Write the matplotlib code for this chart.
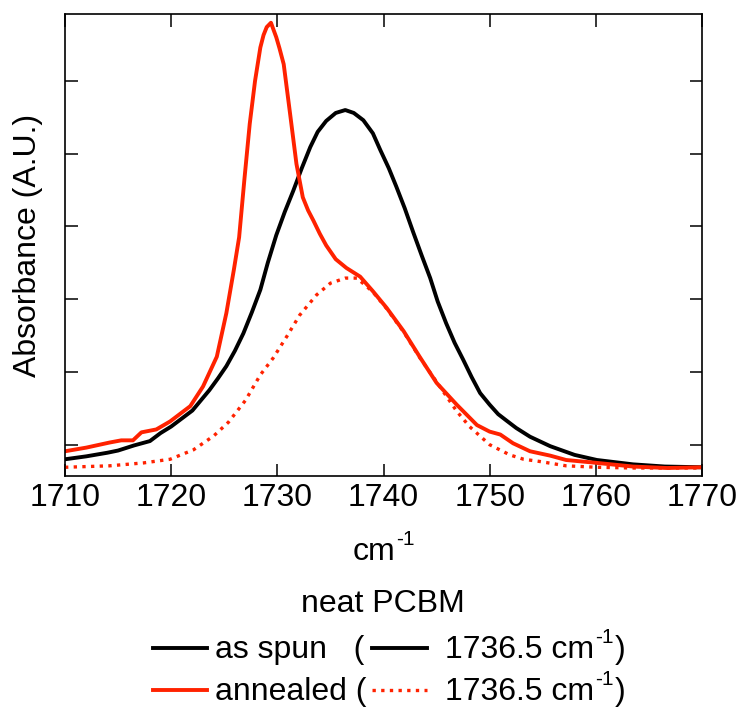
import matplotlib
matplotlib.use("Agg")
import matplotlib.pyplot as plt
from matplotlib.lines import Line2D

plt.rcParams['font.family'] = ['Liberation Sans', 'DejaVu Sans']

# ---- data ----
as_spun_x = [1710, 1712, 1714, 1715, 1716.5, 1718, 1719, 1720, 1722, 1723.6, 1724.4, 1725.2,
             1726.0, 1726.8, 1727.6, 1728.4, 1729.1, 1729.9, 1730.7, 1731.5, 1732.3, 1733.1,
             1733.8, 1734.6, 1735.5, 1736.4, 1737.2, 1738.1, 1739.0, 1739.7, 1740.5, 1741.2,
             1742.0, 1742.8, 1743.6, 1744.4, 1745.1, 1745.9, 1746.7, 1747.5, 1748.3, 1749.1,
             1750.0, 1750.8, 1751.6, 1752.5, 1753.8, 1755.7, 1758, 1760.1, 1763.5, 1766.5, 1770]
as_spun_y = [-0.20, -0.16, -0.11, -0.08, -0.01, 0.05, 0.16, 0.25, 0.47, 0.75, 0.91, 1.08,
             1.29, 1.53, 1.82, 2.13, 2.50, 2.88, 3.20, 3.49, 3.80, 4.09,
             4.30, 4.45, 4.56, 4.60, 4.56, 4.46, 4.28, 4.05, 3.80, 3.55,
             3.25, 2.92, 2.60, 2.29, 1.97, 1.67, 1.40, 1.17, 0.93, 0.71,
             0.55, 0.42, 0.33, 0.23, 0.11, -0.02, -0.14, -0.21, -0.27, -0.30, -0.31]

annealed_x = [1710, 1712, 1714.2, 1715.3, 1716.4, 1717.2, 1718.6, 1719.9, 1721.8, 1723.0,
              1724.3, 1725.2, 1725.9, 1726.4, 1726.9, 1727.4, 1727.9, 1728.4, 1728.7, 1729.0,
              1729.4, 1729.9, 1730.2, 1730.6, 1731.2, 1731.8, 1732.4, 1732.9, 1733.4, 1734.0,
              1734.6, 1735.5, 1736.5, 1737.8, 1739.0, 1740.3, 1741.9, 1743.4, 1745.0, 1746.9,
              1748.8, 1750.0, 1751.0, 1752.2, 1753.8, 1755.7, 1757.2, 1760.1, 1763.5, 1766.7, 1770]
annealed_y = [-0.09, -0.04, 0.03, 0.06, 0.06, 0.17, 0.21, 0.32, 0.53, 0.80,
              1.21, 1.81, 2.40, 2.85, 3.65, 4.41, 5.00, 5.46, 5.63, 5.74,
              5.80, 5.60, 5.45, 5.23, 4.55, 3.86, 3.40, 3.22, 3.08, 2.90,
              2.74, 2.55, 2.43, 2.31, 2.11, 1.88, 1.56, 1.21, 0.85, 0.55,
              0.27, 0.18, 0.14, 0.02, -0.09, -0.15, -0.21, -0.25, -0.30, -0.32, -0.31]

fit_x = [1710, 1714.2, 1717.4, 1719.9, 1722.1, 1724.0, 1725.4, 1727.0, 1728.4, 1729.6,
         1730.9, 1732.1, 1733.7, 1735.0, 1736.4, 1737.5, 1739.0, 1740.3, 1741.9, 1743.4,
         1745.3, 1746.9, 1748.1, 1750.0, 1751.9, 1753.2, 1754.7, 1757.2, 1760.1, 1763.5, 1770]
fit_y = [-0.31, -0.29, -0.25, -0.20, -0.07, 0.12, 0.31, 0.61, 0.96, 1.19,
         1.49, 1.78, 2.06, 2.22, 2.29, 2.29, 2.10, 1.87, 1.55, 1.20,
         0.80, 0.46, 0.25, 0.00, -0.14, -0.20, -0.23, -0.29, -0.31, -0.32, -0.32]

x_ticks = [1710, 1720, 1730, 1740, 1750, 1760, 1770]
y_ticks = [0, 1, 2, 3, 4, 5]

RED = '#ff2200'
FS = 23
SFS = 15
DOT = (0, (1, 1.6))

fig = plt.figure(figsize=(7.41, 7.07), dpi=100)
W, H = 741, 707
ax = fig.add_axes([65 / W, 1 - 476 / H, (702 - 65) / W, (476 - 14) / H])

ax.plot(fit_x, fit_y, color=RED, lw=2.4, linestyle=DOT, dash_capstyle='butt')
ax.plot(as_spun_x, as_spun_y, color='black', lw=2.8, solid_joinstyle='round')
ax.plot(annealed_x, annealed_y, color=RED, lw=2.8, solid_joinstyle='round')

ax.set_xlim(1710, 1770)
ax.set_ylim(-0.43, 5.92)
ax.set_xticks(x_ticks)
ax.set_yticks(y_ticks)
ax.set_yticklabels([])
ax.tick_params(direction='in', length=9, width=1.1, top=True, right=True,
               labelsize=FS, pad=5)
for s in ax.spines.values():
    s.set_linewidth(1.2)

ax.set_ylabel('Absorbance (A.U.)', fontsize=FS)
ax.yaxis.set_label_coords(-0.035, 0.5)

renderer = fig.canvas.get_renderer()


def text_with_sup(x_px, base_px, main, tail='', ha='left'):
    """main text, then raised '-1', then optional tail; x/base in pixels from top-left."""
    t = fig.text(0, 0, main, fontsize=FS, transform=None)
    w_main = t.get_window_extent(renderer).width
    s = fig.text(0, 0, '-1', fontsize=SFS, transform=None)
    w_sup = s.get_window_extent(renderer).width
    tails = []
    w_tail = 0
    if tail:
        tt = fig.text(0, 0, tail, fontsize=FS, transform=None)
        w_tail = tt.get_window_extent(renderer).width
        tails.append(tt)
    total = w_main + w_sup + w_tail
    x0 = x_px - total / 2 if ha == 'center' else x_px
    yb = H - base_px
    t.set_position((x0, yb)); t.set_va('baseline')
    s.set_position((x0 + w_main + 1, yb + 15)); s.set_va('baseline')
    if tails:
        tails[0].set_position((x0 + w_main + w_sup + 2, yb)); tails[0].set_va('baseline')


text_with_sup(383, 560, 'cm', ha='center')

fig.text(383 / W, 1 - 612 / H, 'neat PCBM', fontsize=FS, ha='center', va='baseline')


def seg(x0, x1, y, **kw):
    fig.add_artist(Line2D([x0 / W, x1 / W], [1 - y / H, 1 - y / H],
                          transform=fig.transFigure, **kw))


row1, row2 = 648, 690
seg(153, 207, row1, color='black', lw=2.8)
fig.text(215 / W, 1 - (row1 + 10) / H, 'as spun   (', fontsize=FS, ha='left', va='baseline')
seg(372, 427, row1, color='black', lw=2.8)
text_with_sup(445, row1 + 10, '1736.5 cm', ')')

seg(153, 207, row2, color=RED, lw=2.8)
fig.text(215 / W, 1 - (row2 + 10) / H, 'annealed (', fontsize=FS, ha='left', va='baseline')
seg(372, 427, row2, color=RED, lw=2.4, linestyle=DOT, dash_capstyle='butt')
text_with_sup(445, row2 + 10, '1736.5 cm', ')')

fig.savefig('out.png', dpi=100)
